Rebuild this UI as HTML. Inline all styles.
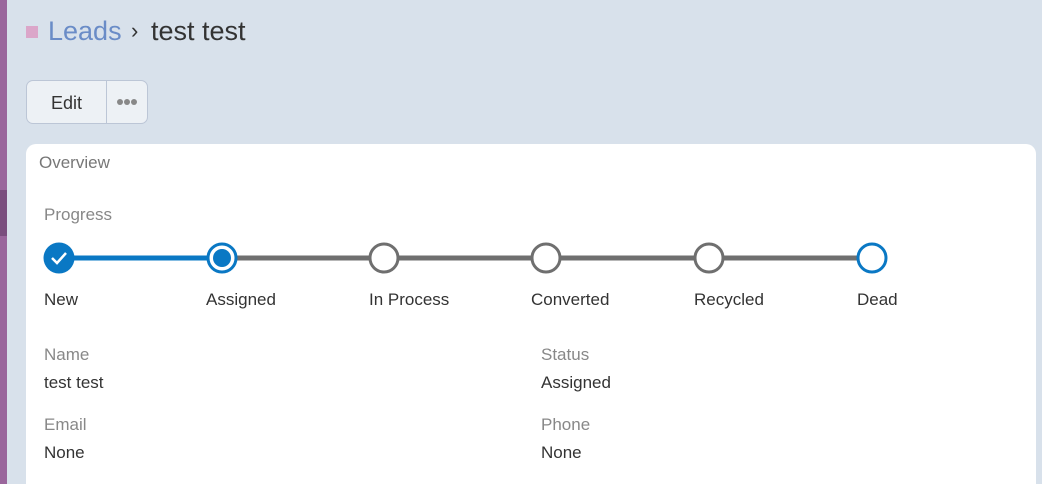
<!DOCTYPE html>
<html style="height:484px;overflow:hidden"><head><style>
body{margin:0;width:1042px;height:484px;background:#d8e1eb;font-family:"Liberation Sans",sans-serif;position:relative;overflow:hidden}
.bar{position:absolute;left:0;top:0;width:7px;height:484px;background:#9a669c}
.bar2{position:absolute;left:0;top:190px;width:7px;height:46px;background:#7a4e7e}
.t{position:absolute;white-space:nowrap}
</style></head><body>
<div class="bar"></div><div class="bar2"></div>
<div style="position:absolute;left:26px;top:26px;width:12px;height:12px;background:#dba6c9"></div>
<div class="t" style="left:48px;top:16px;font-size:27px;color:#6a8cc7">Leads</div>
<div class="t" style="left:131px;top:18px;font-size:22px;color:#333">›</div>
<div class="t" style="left:151px;top:16px;font-size:27px;color:#333">test test</div>
<div style="position:absolute;left:26px;top:80px;width:120px;height:42px;border:1px solid #bcc6d6;border-radius:7px;background:#edf1f5"></div>
<div style="position:absolute;left:106px;top:81px;width:1px;height:42px;background:#bcc6d6"></div>
<div class="t" style="left:51px;top:93px;font-size:18px;color:#333">Edit</div>
<svg style="position:absolute;left:116px;top:98px" width="24" height="8"><circle cx="4" cy="4" r="3" fill="#888"/><circle cx="11" cy="4" r="3" fill="#888"/><circle cx="18" cy="4" r="3" fill="#888"/></svg>
<div style="position:absolute;left:26px;top:144px;width:1010px;height:340px;background:#fff;border-radius:10px 10px 0 0"></div>
<div class="t" style="left:39px;top:153px;font-size:17px;color:#777">Overview</div>
<div class="t" style="left:44px;top:205px;font-size:17px;color:#888">Progress</div>
<svg style="position:absolute;left:0;top:0" width="1042" height="484">
<line x1="59" y1="258" x2="222" y2="258" stroke="#0a78c4" stroke-width="5"/>
<line x1="222" y1="258" x2="872" y2="258" stroke="#6f6f6f" stroke-width="5"/>
<circle cx="59" cy="258" r="15.5" fill="#0a78c4"/>
<path d="M52 258 l5 5 l9 -10" stroke="#fff" stroke-width="2.5" fill="none"/>
<circle cx="222" cy="258" r="14" fill="#fff" stroke="#0a78c4" stroke-width="3"/>
<circle cx="222" cy="258" r="9" fill="#0a78c4"/>
<circle cx="384" cy="258" r="14" fill="#fff" stroke="#6f6f6f" stroke-width="3"/>
<circle cx="546" cy="258" r="14" fill="#fff" stroke="#6f6f6f" stroke-width="3"/>
<circle cx="709" cy="258" r="14" fill="#fff" stroke="#6f6f6f" stroke-width="3"/>
<circle cx="872" cy="258" r="14" fill="#fff" stroke="#0a78c4" stroke-width="3"/>
</svg>
<div class="t" style="left:44px;top:290px;font-size:17px;color:#333">New</div>
<div class="t" style="left:206px;top:290px;font-size:17px;color:#333">Assigned</div>
<div class="t" style="left:369px;top:290px;font-size:17px;color:#333">In Process</div>
<div class="t" style="left:531px;top:290px;font-size:17px;color:#333">Converted</div>
<div class="t" style="left:694px;top:290px;font-size:17px;color:#333">Recycled</div>
<div class="t" style="left:857px;top:290px;font-size:17px;color:#333">Dead</div>
<div class="t" style="left:44px;top:345px;font-size:17px;color:#888">Name</div>
<div class="t" style="left:44px;top:373px;font-size:17px;color:#333">test test</div>
<div class="t" style="left:541px;top:345px;font-size:17px;color:#888">Status</div>
<div class="t" style="left:541px;top:373px;font-size:17px;color:#333">Assigned</div>
<div class="t" style="left:44px;top:415px;font-size:17px;color:#888">Email</div>
<div class="t" style="left:44px;top:443px;font-size:17px;color:#333">None</div>
<div class="t" style="left:541px;top:415px;font-size:17px;color:#888">Phone</div>
<div class="t" style="left:541px;top:443px;font-size:17px;color:#333">None</div>
</body></html>
